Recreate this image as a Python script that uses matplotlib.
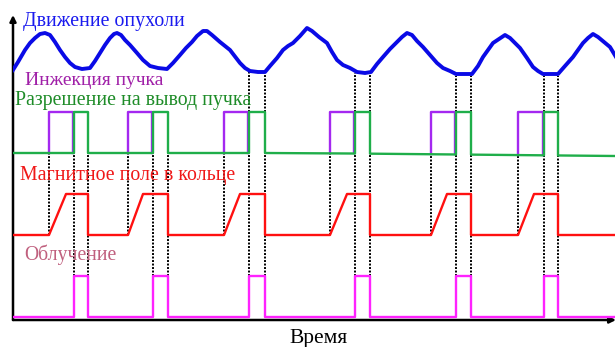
import numpy as np
import matplotlib
matplotlib.use("Agg")
import matplotlib.pyplot as plt

plt.rcParams['font.family'] = ['Liberation Serif', 'DejaVu Serif']

# tumour motion, time in px-like units, level in arbitrary units
motion_t = [13, 18, 25, 30, 35, 40, 45, 50, 55, 60, 65, 70, 75, 82, 90, 95, 100, 105, 110, 114,
            117, 121, 125, 130, 137, 143, 150, 158, 167, 173, 180, 186, 192, 197, 203, 207, 212,
            220, 230, 240, 245, 250, 258, 265, 270, 277, 283, 288, 293, 300, 307, 312, 319, 327,
            332, 337, 343, 350, 357, 365, 371, 377, 383, 390, 397, 402, 407, 412, 417, 423, 430,
            437, 443, 450, 456, 464, 472, 478, 483, 488, 493, 499, 505, 510, 515, 520, 527, 533,
            538, 543, 550, 558, 565, 573, 578, 583, 588, 593, 598, 604, 610, 616]
motion_y = [250, 258, 270, 277, 282, 286, 287, 285, 278, 270, 263, 257, 253, 251, 252, 259, 267, 275, 282, 286,
            287, 285, 280, 275, 267, 260, 254, 252, 251, 257, 265, 272, 278, 284, 289, 289, 285,
            278, 270, 257, 252, 249, 248, 248, 254, 262, 270, 274, 277, 284, 292, 289, 283, 277,
            268, 260, 255, 252, 248, 247, 248, 256, 263, 271, 278, 283, 287, 285, 279, 273, 265,
            257, 252, 249, 246, 246, 246, 254, 263, 270, 277, 281, 285, 282, 277, 272, 262, 253,
            249, 246, 246, 246, 254, 263, 270, 277, 282, 286, 283, 278, 273, 263]

# cycle timings
inj_start = [49, 128, 224, 330, 431, 518]
ramp_end = [66, 143, 240, 347, 447, 534]
ext_start = [74, 153, 249, 355, 456, 544]
ext_end = [88, 168, 265, 370, 471, 558]

# signal levels
pulse_high = 208
green_low_t = [13, 300, 615]
green_low_y = [167, 167, 164]
field_low, field_high = 85, 126
beam_low, beam_high = 3, 44

t_min, t_max = 13, 615

fig = plt.figure(figsize=(6.16, 3.47), dpi=100)
ax = fig.add_axes([13 / 616, 27 / 347, (615 - 13) / 616, (320 - 15) / 347])
ax.set_xlim(t_min, t_max)
ax.set_ylim(0, 305)
ax.axis('off')

# axes with arrows
ax.annotate('', xy=(t_min, 305), xytext=(t_min, 0),
            arrowprops=dict(arrowstyle='-|>', lw=1.8, color='black', mutation_scale=9, shrinkA=0, shrinkB=0),
            annotation_clip=False)
ax.annotate('', xy=(t_max + 1, 0), xytext=(t_min, 0),
            arrowprops=dict(arrowstyle='-|>', lw=1.8, color='black', mutation_scale=9, shrinkA=0, shrinkB=0),
            annotation_clip=False)

dot = dict(color='black', lw=1.4, linestyle=(0, (1, 0.8)), zorder=1)

# injection (purple)
px, py = [], []
for s, e in zip(inj_start, ext_start):
    lo = np.interp(s, green_low_t, green_low_y)
    px += [s, s, e - 1.5, e - 1.5, np.nan]
    py += [lo, pulse_high, pulse_high, lo, np.nan]
ax.plot(px, py, color='#a428f0', lw=1.7, zorder=3)

# extraction permission (green)
gx, gy = [t_min], [green_low_y[0]]
for s, e in zip(ext_start, ext_end):
    lo_s = np.interp(s, green_low_t, green_low_y)
    lo_e = np.interp(e, green_low_t, green_low_y)
    gx += [s, s, e, e]
    gy += [lo_s, pulse_high, pulse_high, lo_e]
gx.append(t_max)
gy.append(green_low_y[-1])
ax.plot(gx, gy, color='#1fae4a', lw=1.7, zorder=4)

# magnetic field (red)
rx, ry = [t_min], [field_low]
for s, r, e in zip(inj_start, ramp_end, ext_end):
    rx += [s, r, e, e]
    ry += [field_low, field_high, field_high, field_low]
rx.append(t_max)
ry.append(field_low)
ax.plot(rx, ry, color='#ff1010', lw=1.7, zorder=3)

# irradiation (magenta)
mx, my = [t_min], [beam_low]
for s, e in zip(ext_start, ext_end):
    mx += [s, s, e, e]
    my += [beam_low, beam_high, beam_high, beam_low]
mx.append(t_max)
my.append(beam_low)
ax.plot(mx, my, color='#ff22ff', lw=1.7, zorder=3)

# dotted guides
for s in inj_start:
    ax.plot([s, s], [field_low, np.interp(s, green_low_t, green_low_y)], **dot)
for i, (s, e) in enumerate(zip(ext_start, ext_end)):
    for t in (s, e):
        ax.plot([t, t], [beam_high, np.interp(t, green_low_t, green_low_y)], **dot)
        if i >= 2:
            ax.plot([t, t], [pulse_high, np.interp(t, motion_t, motion_y) - 2], **dot)

# tumour motion
ax.plot(motion_t, motion_y, color='#0a0ae6', lw=2.8, zorder=5, solid_joinstyle='round')

# labels
ax.text(23, 320 - 26, 'Движение опухоли', color='#1a1aee', fontsize=14.3, va='baseline')
ax.text(25, 320 - 85, 'Инжекция пучка', color='#a020a8', fontsize=14, va='baseline')
ax.text(15, 320 - 105, 'Разрешение на вывод пучка', color='#1e8c28', fontsize=14.3, va='baseline')
ax.text(20, 320 - 180, 'Магнитное поле в кольце', color='#f01818', fontsize=14.3, va='baseline')
ax.text(24, 320 - 260, 'Облучение', color='#c0607e', fontsize=14.2, va='baseline')
ax.text(289, 320 - 343, 'Время', color='black', fontsize=15.5, va='baseline', clip_on=False)

fig.savefig('out.png', dpi=100)
